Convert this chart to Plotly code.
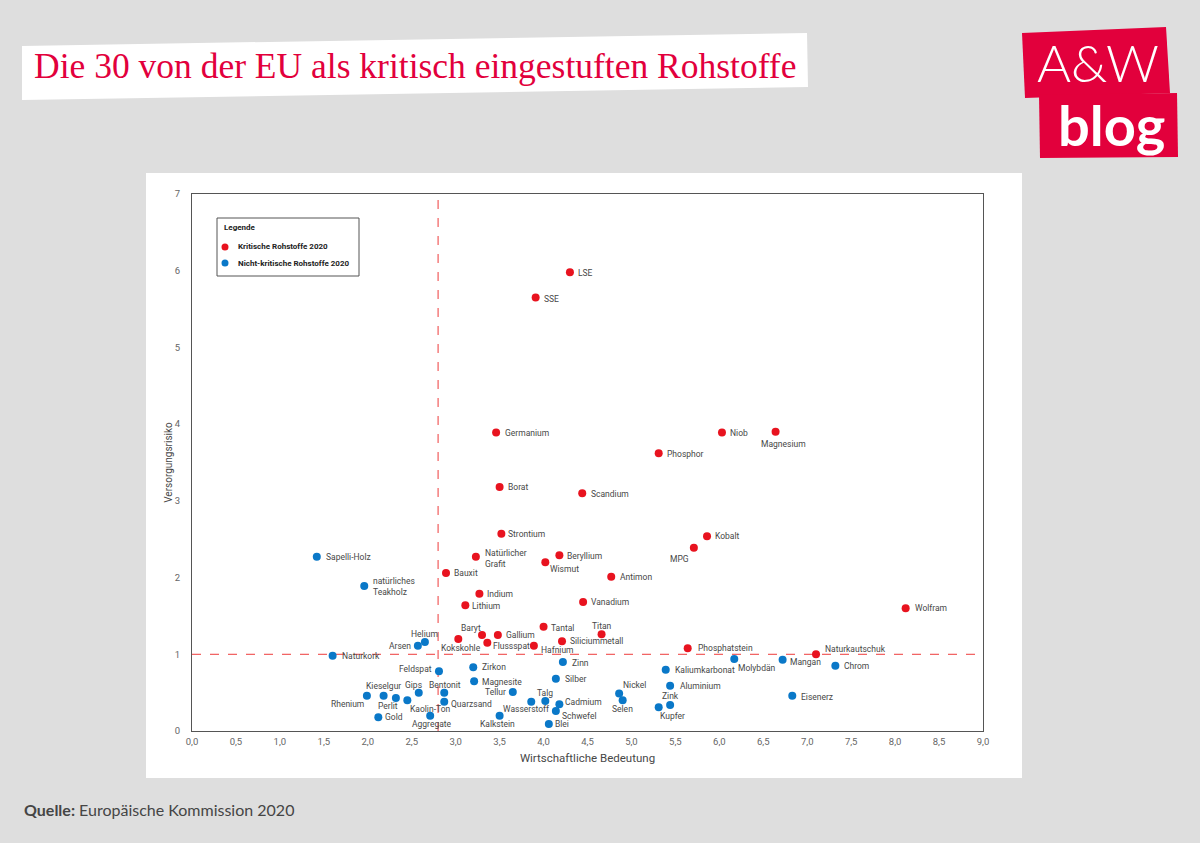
import plotly.graph_objects as go

# ---------------- data ----------------
crit_names = ["LSE", "SSE", "Germanium", "Niob", "Magnesium", "Phosphor", "Borat", "Scandium",
              "Strontium", "Kobalt", "MPG", "Natürlicher<br>Grafit", "Beryllium", "Wismut", "Bauxit",
              "Antimon", "Indium", "Lithium", "Vanadium", "Wolfram", "Tantal", "Titan", "Baryt",
              "Gallium", "Kokskohle", "Flussspat", "Siliciummetall", "Hafnium", "Phosphatstein",
              "Naturkautschuk"]
crit_x = [4.30, 3.91, 3.46, 6.03, 6.64, 5.31, 3.50, 4.44, 3.52, 5.86, 5.71, 3.23, 4.18, 4.02, 2.89,
          4.77, 3.27, 3.11, 4.45, 8.12, 4.00, 4.66, 3.30, 3.48, 3.03, 3.36, 4.21, 3.89, 5.64, 7.10]
crit_y = [5.98, 5.65, 3.89, 3.89, 3.90, 3.62, 3.18, 3.10, 2.57, 2.54, 2.39, 2.27, 2.29, 2.20, 2.06,
          2.01, 1.79, 1.64, 1.68, 1.60, 1.36, 1.26, 1.25, 1.25, 1.20, 1.15, 1.17, 1.11, 1.08, 1.00]

non_names = ["Sapelli-Holz", "natürliches<br>Teakholz", "Naturkork", "Helium", "Arsen", "Feldspat",
             "Kieselgur", "Rhenium", "Perlit", "Gips", "Kaolin-Ton", "Gold", "Aggregate", "Bentonit",
             "Quarzsand", "Zirkon", "Magnesite", "Tellur", "Wasserstoff", "Talg", "Cadmium", "Schwefel",
             "Kalkstein", "Blei", "Zinn", "Silber", "Nickel", "Selen", "Kupfer", "Zink", "Aluminium",
             "Kaliumkarbonat", "Molybdän", "Mangan", "Chrom", "Eisenerz"]
non_x = [1.42, 1.96, 1.60, 2.65, 2.57, 2.81, 2.18, 1.99, 2.32, 2.58, 2.45, 2.12, 2.71, 2.87, 2.87,
         3.20, 3.21, 3.65, 3.86, 4.02, 4.18, 4.14, 3.50, 4.06, 4.22, 4.14, 4.86, 4.90, 5.31, 5.44,
         5.44, 5.39, 6.17, 6.72, 7.32, 6.83]
non_y = [2.27, 1.89, 0.98, 1.16, 1.11, 0.78, 0.46, 0.46, 0.43, 0.50, 0.40, 0.18, 0.20, 0.50, 0.38,
         0.83, 0.65, 0.51, 0.38, 0.39, 0.35, 0.26, 0.20, 0.09, 0.90, 0.68, 0.49, 0.40, 0.31, 0.34,
         0.59, 0.80, 0.94, 0.93, 0.85, 0.46]

series_names = ["Kritische Rohstoffe 2020", "Nicht-kritische Rohstoffe 2020"]

x_ticks = [0, 0.5, 1, 1.5, 2, 2.5, 3, 3.5, 4, 4.5, 5, 5.5, 6, 6.5, 7, 7.5, 8, 8.5, 9]
x_ticklabels = ["0,0", "0,5", "1,0", "1,5", "2,0", "2,5", "3,0", "3,5", "4,0", "4,5", "5,0", "5,5",
                "6,0", "6,5", "7,0", "7,5", "8,0", "8,5", "9,0"]
y_ticks = [0, 1, 2, 3, 4, 5, 6, 7]
threshold_x = 2.8
threshold_y = 1.0

# ---------------- label placement (style): (anchor, dx px, dy px down) ----------------
# anchor: "r" text to the right of dot, "l" text to the left, "c" centred
crit_lab = [("r", 6, 1), ("r", 6, 1), ("r", 7, 0), ("r", 6, 0), ("c", 8, 12), ("r", 6, 1),
            ("r", 6, 0), ("r", 7, 1), ("r", 5, 0), ("r", 6, 0), ("l", -3, 11), ("r", 7, 2),
            ("r", 6, 1), ("r", 3, 7), ("r", 6, 0), ("r", 7, 0), ("r", 6, 0), ("r", 5, 1),
            ("r", 6, 0), ("r", 7, 0), ("r", 5, 1), ("c", 0, -8), ("c", -11, -7), ("r", 6, 0),
            ("c", 3, 9), ("r", 4, 3), ("r", 6, 0), ("r", 5, 4), ("r", 8, 0), ("r", 7, -5)]
non_lab = [("r", 7, 0), ("r", 7, 0), ("r", 7, 0), ("c", 0, -8), ("l", -5, 0), ("l", -5, -2),
           ("c", 0, -10), ("l", -1, 8), ("c", -8, 8), ("c", -5, -8), ("r", 1, 9), ("r", 5, 0),
           ("c", 2, 8), ("c", 1, -8), ("r", 5, 2), ("r", 7, 0), ("r", 6, 1), ("l", -5, 0),
           ("c", -5, 7), ("c", 0, -8), ("r", 4, -2), ("r", 4, 5), ("c", -2, 8), ("r", 4, 0),
           ("r", 7, 1), ("r", 7, 0), ("r", 2, -8), ("c", 0, 9), ("r", -1, 9), ("c", 0, -9),
           ("r", 8, 0), ("r", 7, 0), ("r", 2, 9), ("r", 5, 2), ("r", 7, 0), ("r", 7, 1)]

RED = "#e8131f"
BLUE = "#0a78c8"
TXT = "#474747"
FONT = "Roboto"

W, H = 1200, 843
L, R, T, B = 192, 217, 194, 112
PW, PH = W - L - R, H - T - B


def px(xp):
    return (xp - L) / PW


def py(yp):
    return (H - B - yp) / PH


fig = go.Figure()
fig.add_trace(go.Scatter(
    x=crit_x, y=crit_y, mode="markers", text=crit_names, name=series_names[0],
    marker=dict(color=RED, size=8), cliponaxis=False, hoverinfo="text", showlegend=False))
fig.add_trace(go.Scatter(
    x=non_x, y=non_y, mode="markers", text=non_names, name=series_names[1],
    marker=dict(color=BLUE, size=8), cliponaxis=False, hoverinfo="text", showlegend=False))

annotations = []
anchor_map = {"r": "left", "l": "right", "c": "center"}
for names, xs, ys, labs in [(crit_names, crit_x, crit_y, crit_lab), (non_names, non_x, non_y, non_lab)]:
    for n, xv, yv, (a, dx, dy) in zip(names, xs, ys, labs):
        annotations.append(dict(x=xv, y=yv, xref="x", yref="y", text=n, showarrow=False,
                                xanchor=anchor_map[a], yanchor="middle", xshift=dx, yshift=-dy,
                                align="left", font=dict(family=FONT, size=8.5, color=TXT)))

shapes = []
# white panel
shapes.append(dict(type="rect", xref="paper", yref="paper", x0=px(146), x1=px(1022), y0=py(778), y1=py(173),
                   fillcolor="white", line=dict(width=0), layer="below"))
# title box (slightly tilted)
shapes.append(dict(type="path", xref="paper", yref="paper",
                   path=f"M {px(22)},{py(46)} L {px(807)},{py(33)} L {px(808)},{py(87)} L {px(22)},{py(100)} Z",
                   fillcolor="white", line=dict(width=0), layer="below"))
# logo boxes
LOGO = "#e2003c"
shapes.append(dict(type="path", xref="paper", yref="paper",
                   path=f"M {px(1022)},{py(33)} L {px(1166)},{py(27)} L {px(1170)},{py(93)} L {px(1025)},{py(98)} Z",
                   fillcolor=LOGO, line=dict(width=0), layer="below"))
shapes.append(dict(type="path", xref="paper", yref="paper",
                   path=f"M {px(1039)},{py(95)} L {px(1177)},{py(93)} L {px(1178)},{py(157)} L {px(1040)},{py(158)} Z",
                   fillcolor=LOGO, line=dict(width=0), layer="below"))
# threshold lines
shapes.append(dict(type="line", xref="x", yref="y", x0=threshold_x, x1=threshold_x, y0=0, y1=7,
                   line=dict(color="#ee3b3b", width=1, dash="dash"), layer="below"))
shapes.append(dict(type="line", xref="x", yref="y", x0=0, x1=9, y0=threshold_y, y1=threshold_y,
                   line=dict(color="#ee3b3b", width=1, dash="dash"), layer="below"))

# legend box (drawn)
shapes.append(dict(type="rect", xref="paper", yref="paper", x0=px(217), x1=px(359), y0=py(276), y1=py(218),
                   fillcolor="white", line=dict(color="#555555", width=1)))
for col, yy in [(RED, 247), (BLUE, 263)]:
    shapes.append(dict(type="circle", xref="paper", yref="paper", x0=px(221.5), x1=px(228.5),
                       y0=py(yy + 3.5), y1=py(yy - 3.5), fillcolor=col, line=dict(width=0)))

annotations += [
    dict(xref="paper", yref="paper", x=px(222), y=py(227), xanchor="left", yanchor="middle",
         text="<b>Legende</b>", showarrow=False, font=dict(family="Roboto", size=8, color="#222")),
    dict(xref="paper", yref="paper", x=px(236), y=py(247), xanchor="left", yanchor="middle",
         text="<b>" + series_names[0] + "</b>", showarrow=False,
         font=dict(family="Roboto", size=8, color="#222")),
    dict(xref="paper", yref="paper", x=px(236), y=py(263), xanchor="left", yanchor="middle",
         text="<b>" + series_names[1] + "</b>", showarrow=False,
         font=dict(family="Roboto", size=8, color="#222")),
    dict(xref="paper", yref="paper", x=px(32), y=py(66), xanchor="left", yanchor="middle",
         text="Die 30 von der EU als kritisch eingestuften Rohstoffe", showarrow=False,
         font=dict(family="Liberation Serif", size=35.5, color="#e2003c")),
    dict(xref="paper", yref="paper", x=px(1098), y=py(62), xanchor="center", yanchor="middle",
         text="A&amp;W", showarrow=False,
         font=dict(family="Lato", size=52, color="white", weight=300)),
    dict(xref="paper", yref="paper", x=px(1111), y=py(125), xanchor="center", yanchor="middle",
         text="<b>blog</b>", showarrow=False,
         font=dict(family="Lato", size=56, color="white")),
    dict(xref="paper", yref="paper", x=px(22), y=py(809), xanchor="left", yanchor="middle",
         text="<b>Quelle:</b> Europäische Kommission 2020", showarrow=False,
         font=dict(family="Lato", size=16, color="#454545")),
]

fig.update_layout(
    width=W, height=H,
    margin=dict(l=L, r=R, t=T, b=B, pad=0),
    paper_bgcolor="#dedede", plot_bgcolor="white",
    showlegend=False,
    shapes=shapes, annotations=annotations,
    xaxis=dict(range=[0, 9], tickvals=x_ticks, ticktext=x_ticklabels, showgrid=False, zeroline=False,
               showline=True, linecolor="#555555", linewidth=1, mirror=True, ticks="",
               ticklabelstandoff=2,
               tickfont=dict(family=FONT, size=9.5, color="#666"),
               title=dict(text="Wirtschaftliche Bedeutung", standoff=7,
                          font=dict(family=FONT, size=11.5, color=TXT))),
    yaxis=dict(range=[0, 7], tickvals=y_ticks, showgrid=False, zeroline=False,
               showline=True, linecolor="#555555", linewidth=1, mirror=True, ticks="",
               ticklabelstandoff=9,
               tickfont=dict(family=FONT, size=9.5, color="#666"),
               title=dict(text="Versorgungsrisiko", standoff=0,
                          font=dict(family=FONT, size=10, color=TXT))),
)

fig.write_html("out.html", config={"displayModeBar": False},
               post_script="document.body.style.margin='0';document.body.style.overflow='hidden';")
